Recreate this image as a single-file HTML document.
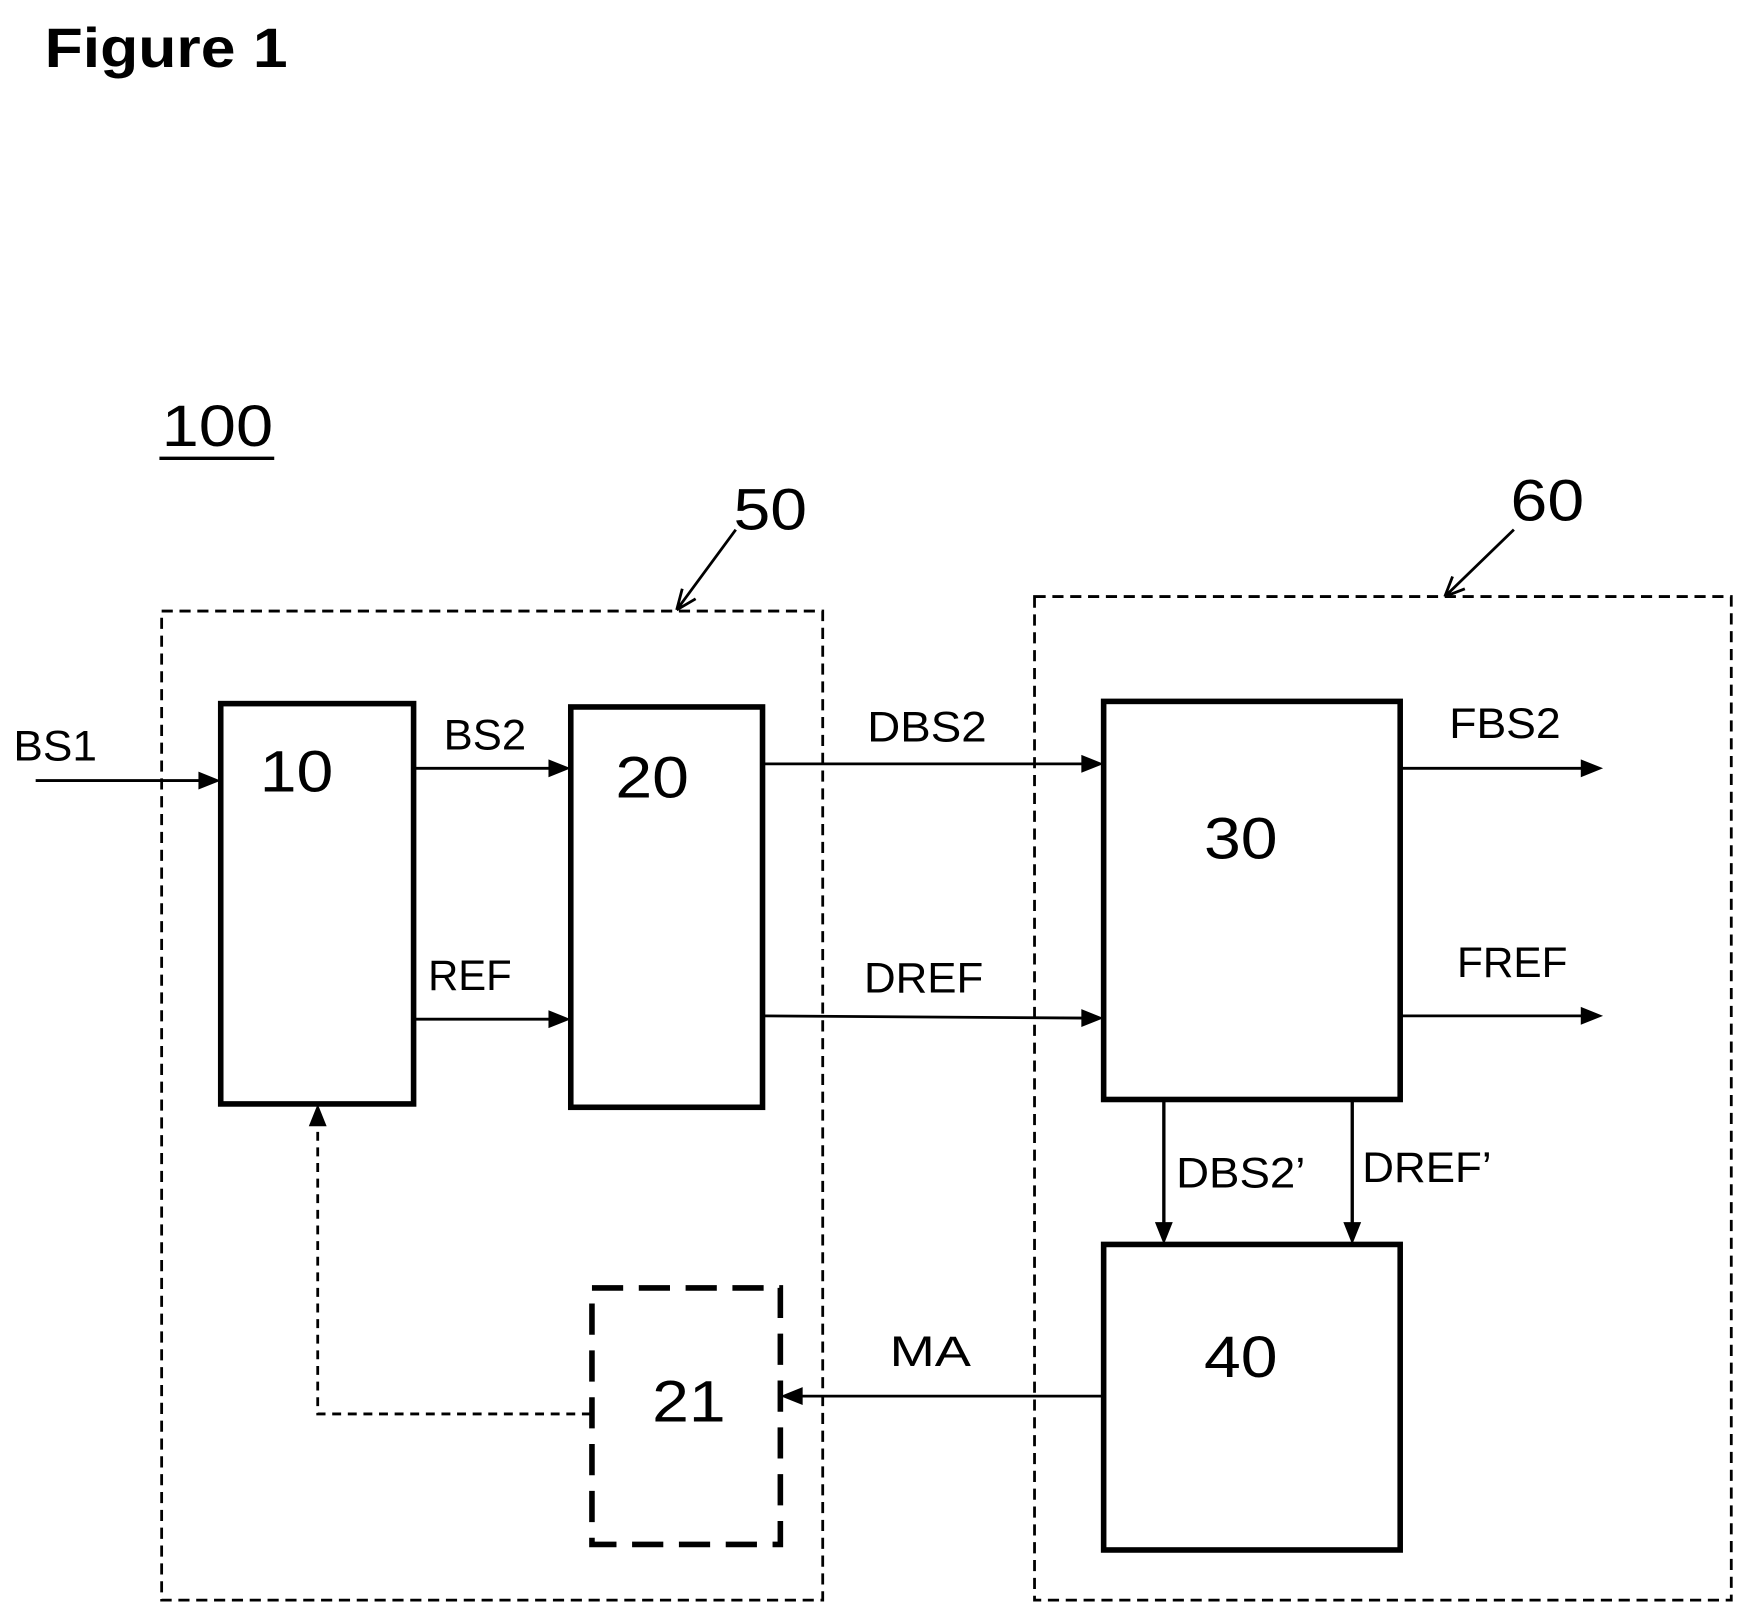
<!DOCTYPE html>
<html><head><meta charset="utf-8"><style>html,body{margin:0;padding:0;background:#fff}svg{display:block}text{}</style></head>
<body>
<svg width="1748" height="1618" viewBox="0 0 1568 1451" preserveAspectRatio="none" xmlns="http://www.w3.org/2000/svg" font-family="Liberation Sans, sans-serif">
<g fill="#000">
<text x="40" y="60" font-size="50" font-weight="bold" textLength="218" lengthAdjust="spacingAndGlyphs">Figure 1</text>
<text x="145" y="400" font-size="52" textLength="100" lengthAdjust="spacingAndGlyphs">100</text>
<text x="658" y="475" font-size="52" textLength="66" lengthAdjust="spacingAndGlyphs">50</text>
<text x="1355" y="467" font-size="52" textLength="66" lengthAdjust="spacingAndGlyphs">60</text>
<text x="233" y="710" font-size="52" textLength="66" lengthAdjust="spacingAndGlyphs">10</text>
<text x="552" y="715" font-size="52" textLength="66" lengthAdjust="spacingAndGlyphs">20</text>
<text x="1080" y="770" font-size="52" textLength="66" lengthAdjust="spacingAndGlyphs">30</text>
<text x="1080" y="1235" font-size="52" textLength="66" lengthAdjust="spacingAndGlyphs">40</text>
<text x="585" y="1275" font-size="52" textLength="66" lengthAdjust="spacingAndGlyphs">21</text>
<g font-size="38">
<text x="12" y="682" textLength="75" lengthAdjust="spacingAndGlyphs">BS1</text>
<text x="398" y="672" textLength="74" lengthAdjust="spacingAndGlyphs">BS2</text>
<text x="384" y="888" textLength="75" lengthAdjust="spacingAndGlyphs">REF</text>
<text x="778" y="665" textLength="107" lengthAdjust="spacingAndGlyphs">DBS2</text>
<text x="775" y="890" textLength="107" lengthAdjust="spacingAndGlyphs">DREF</text>
<text x="1300" y="662" textLength="100" lengthAdjust="spacingAndGlyphs">FBS2</text>
<text x="1307" y="876" textLength="99" lengthAdjust="spacingAndGlyphs">FREF</text>
<text x="1055" y="1065" textLength="116" lengthAdjust="spacingAndGlyphs">DBS2’</text>
<text x="1222" y="1060" textLength="116" lengthAdjust="spacingAndGlyphs">DREF’</text>
<text x="798" y="1225" textLength="73" lengthAdjust="spacingAndGlyphs">MA</text>
</g>
</g>
<line x1="143" y1="411" x2="246" y2="411" stroke="#000" stroke-width="3"/>
<g fill="none" stroke="#000">
<path d="M660 475 L607 547 M607 547 L612 528 M607 547 L624 537" stroke-width="2.5"/>
<path d="M1358 475 L1296 535 M1296 535 L1303 517 M1296 535 L1314 528" stroke-width="2.5"/>
<rect x="145" y="548" width="593" height="887" stroke-width="2.5" stroke-dasharray="10 6"/>
<rect x="928" y="535" width="625" height="900" stroke-width="2.5" stroke-dasharray="10 6"/>
<rect x="198" y="631" width="173" height="359" stroke-width="5"/>
<rect x="512" y="634" width="172" height="359" stroke-width="5"/>
<rect x="990" y="629" width="266" height="357" stroke-width="5"/>
<rect x="990" y="1116" width="266" height="274" stroke-width="5"/>
<rect x="531" y="1155" width="169" height="230" stroke-width="5" stroke-dasharray="28 14"/>
<g stroke-width="2.5">
<line x1="32" y1="700" x2="180" y2="700"/>
<line x1="371" y1="689" x2="494" y2="689"/>
<line x1="371" y1="914" x2="494" y2="914"/>
<line x1="684" y1="685" x2="972" y2="685"/>
<line x1="684" y1="911" x2="972" y2="913"/>
<line x1="1256" y1="689" x2="1420" y2="689"/>
<line x1="1256" y1="911" x2="1420" y2="911"/>
<line x1="990" y1="1252" x2="716" y2="1252"/>
<path d="M530 1268 L285 1268 L285 1008" stroke-dasharray="8 6"/>
</g>
<line x1="1044" y1="988" x2="1044" y2="1098" stroke-width="3"/>
<line x1="1213" y1="988" x2="1213" y2="1098" stroke-width="3"/>
</g>
<g fill="#000">
<polygon points="198,700 178,692 178,708"/>
<polygon points="512,689 492,681 492,697"/>
<polygon points="512,914 492,906 492,922"/>
<polygon points="990,685 970,677 970,693"/>
<polygon points="990,913 970,905 970,921"/>
<polygon points="1438,689 1418,681 1418,697"/>
<polygon points="1438,911 1418,903 1418,919"/>
<polygon points="700,1252 720,1244 720,1260"/>
<polygon points="1044,1116 1036,1096 1052,1096"/>
<polygon points="1213,1116 1205,1096 1221,1096"/>
<polygon points="285,990 277,1010 293,1010"/>
</g>
</svg>
</body></html>
